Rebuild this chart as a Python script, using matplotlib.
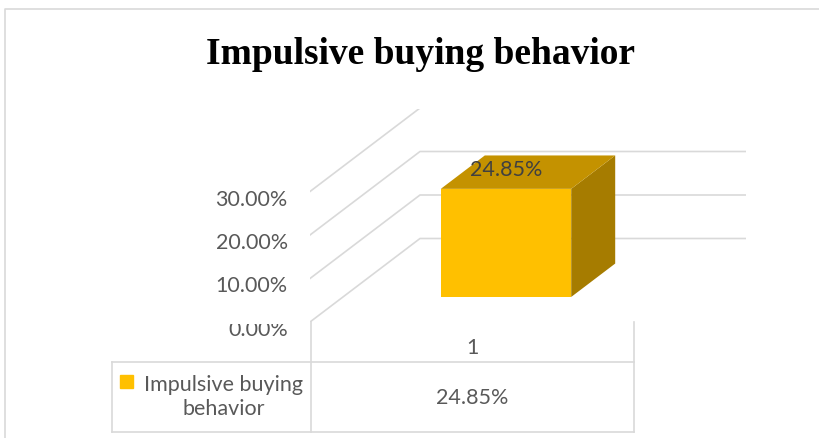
import matplotlib.pyplot as plt
from matplotlib.patches import Polygon, Rectangle
from matplotlib.transforms import Bbox, TransformedBbox, ScaledTranslation

# data
title = "Impulsive buying behavior"
series_name = "Impulsive buying behavior"
categories = ["1"]
values = [24.85]
y_ticks = [0, 10, 20, 30]

grid_col = "#d9d9d9"
text_col = "#595959"
font = "Lato"
fs = 15.5

fig = plt.figure(figsize=(8.2, 4.39), dpi=100)

# background layer in pixel units: frame, title, data table
bg = fig.add_axes([0, 0, 1, 1])
bg.set_xlim(0, 820)
bg.set_ylim(439, 0)
bg.axis("off")

bg.plot([5, 5, 820], [439, 10, 10], color=grid_col, lw=1.2)
bg.text(421, 55, title, ha="center", va="center", fontsize=27,
        fontweight="bold", family="Liberation Serif", color="black")

# data table grid
tl, tm, tr = 112, 311, 634
bg.plot([tl, tr], [363, 363], color=grid_col, lw=1.2)
bg.plot([tl, tr], [433, 433], color=grid_col, lw=1.2)
bg.plot([tl, tl], [363, 433], color=grid_col, lw=1.2)
bg.plot([tm, tm], [323, 433], color=grid_col, lw=1.2)
bg.plot([tr, tr], [323, 433], color=grid_col, lw=1.2)

bg.text((tm + tr) / 2, 348, categories[0], ha="center", va="center",
        fontsize=fs, family=font, color=text_col)
bg.text((tm + tr) / 2, 398, f"{values[0]:.2f}%", ha="center", va="center",
        fontsize=fs, family=font, color=text_col)
bg.add_patch(Rectangle((120, 376), 13, 13, color="#FFC000"))
bg.text(224, 397, series_name.replace("buying ", "buying\n"), ha="center",
        va="center", fontsize=fs, family=font, color=text_col, linespacing=1.2)

# chart area: x in category units, y in percent, depth drawn obliquely
ax = fig.add_axes([310 / 820, 1 - 323 / 439, 436 / 820, 213 / 439])
ax.set_xlim(0, 436 / 326)
ax.set_ylim(0, 213 / 4.35)
ax.patch.set_visible(False)
for s in ax.spines.values():
    s.set_visible(False)
ax.set_xticks([])

DX = 110 / 326
DY = 83.5 / 4.35


def proj(x, v, d):
    return (x + d * DX, v + d * DY)


for t in y_ticks:
    p0 = proj(0, t, 0)
    p1 = proj(0, t, 1)
    p2 = proj(1, t, 1)
    ax.plot([p0[0], p1[0], p2[0]], [p0[1], p1[1], p2[1]],
            color=grid_col, lw=1.2, zorder=1)

ax.set_yticks(y_ticks, labels=[f"{t:.2f}%" for t in y_ticks])
ax.tick_params(axis="y", length=0, pad=16, labelsize=fs, labelcolor=text_col)
shift = ScaledTranslation(0, -5 / 100, fig.dpi_scale_trans)
for lab in ax.get_yticklabels():
    lab.set_family(font)
    lab.set_transform(lab.get_transform() + shift)
# bottom label is cut by the floor edge
low = ax.get_yticklabels()[0]
low.set_clip_on(True)
low.set_clip_box(TransformedBbox(Bbox([[0, 0], [0.5, (439 - 325) / 439]]),
                                 fig.transFigure))

# 3d column
w = 0.4
d0, d1 = 0.3, 0.7
for i, v in enumerate(values):
    x0 = i + 0.5 - w / 2
    x1 = i + 0.5 + w / 2
    front = [proj(x0, 0, d0), proj(x1, 0, d0), proj(x1, v, d0), proj(x0, v, d0)]
    top = [proj(x0, v, d0), proj(x1, v, d0), proj(x1, v, d1), proj(x0, v, d1)]
    side = [proj(x1, 0, d0), proj(x1, v, d0), proj(x1, v, d1), proj(x1, 0, d1)]
    ax.add_patch(Polygon(side, closed=True, fc="#A67C00", ec="none", zorder=3))
    ax.add_patch(Polygon(top, closed=True, fc="#C49200", ec="none", zorder=3))
    ax.add_patch(Polygon(front, closed=True, fc="#FFC000", ec="none", zorder=4))
    ax.annotate(f"{v:.2f}%", xy=proj(i + 0.5, v, d0), xytext=(0, 14.4),
                textcoords="offset points", ha="center", va="center",
                fontsize=fs, family=font, color="#404040", zorder=5)

fig.savefig("out.png", dpi=100)
